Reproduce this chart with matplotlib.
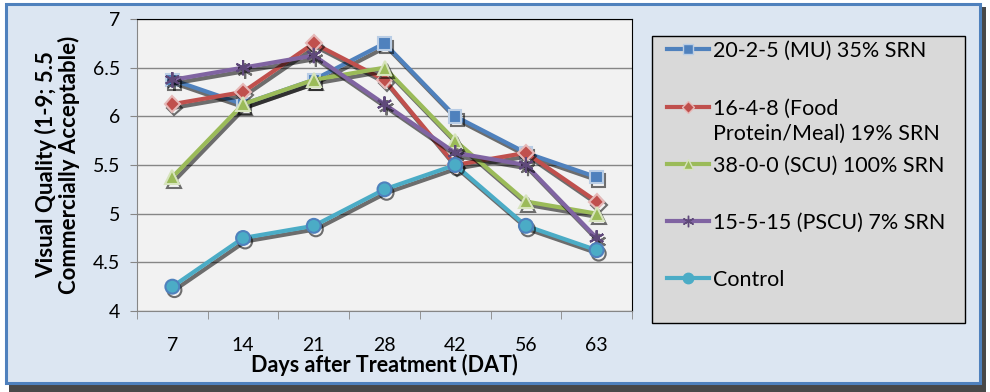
from matplotlib import pyplot as plt
from matplotlib.patches import Rectangle
from matplotlib.lines import Line2D
import matplotlib.patheffects as pe
import numpy as np

plt.rcParams['font.family'] = ['Lato', 'DejaVu Sans']

days = ['7', '14', '21', '28', '42', '56', '63']
mu = [6.375, 6.125, 6.375, 6.75, 6.0, 5.625, 5.375]
food = [6.125, 6.25, 6.75, 6.375, 5.5, 5.625, 5.125]
scu = [5.375, 6.125, 6.375, 6.5, 5.75, 5.125, 5.0]
pscu = [6.375, 6.5, 6.625, 6.125, 5.625, 5.5, 4.75]
control = [4.25, 4.75, 4.875, 5.25, 5.5, 4.875, 4.625]

labels = ['20-2-5 (MU) 35% SRN',
          '16-4-8 (Food\nProtein/Meal) 19% SRN',
          '38-0-0 (SCU) 100% SRN',
          '15-5-15 (PSCU) 7% SRN',
          'Control']

W, H = 990, 392
fig = plt.figure(figsize=(W/100, H/100), dpi=100)
fig.patch.set_facecolor('white')

def px(x, y):
    # pixel from top-left -> figure fraction
    return x / W, 1 - y / H

# outer chart frame with shadow
fig.patches.append(Rectangle((9/W, 0), 977/W, 385/H, transform=fig.transFigure,
                             facecolor='#1a1a1a', edgecolor='none', alpha=0.8, zorder=-2))
fig.patches.append(Rectangle((6/W, 9/H), 974/W, 379/H, transform=fig.transFigure,
                             facecolor='#DCE6F2', edgecolor='#4F81BD', linewidth=2.2, zorder=-1))

ax = fig.add_axes([137/W, 81/H, 495/W, 292/H])
ax.set_facecolor('#F2F2F2')

x = np.arange(len(days))
shadow = [pe.SimpleLineShadow(offset=(1.5, -2.5), shadow_color='black', alpha=0.55),
          pe.Normal()]

styles = [
    (mu, '#4F81BD', 's', '#B9CDE5', 9),
    (food, '#C0504D', 'D', '#E6B9B8', 8),
    (scu, '#9BBB59', '^', '#D7E4BD', 10),
    (pscu, '#8064A2', (6, 2, 0), '#5F497A', 11),
    (control, '#4BACC6', 'o', '#4F81BD', 10),
]
for vals, col, mk, ec, ms in styles:
    ax.plot(x, vals, color=col, lw=3, marker=mk, markersize=ms,
            markerfacecolor=col, markeredgecolor=ec, markeredgewidth=1.5,
            path_effects=shadow)

ax.set_xlim(-0.5, len(days) - 0.5)
ax.set_ylim(4, 7)
ax.set_yticks(np.arange(4, 7.01, 0.5))
ax.set_yticklabels(['4', '4.5', '5', '5.5', '6', '6.5', '7'])
ax.yaxis.grid(True, color='#868686', lw=1)
ax.set_axisbelow(True)

ax.set_xticks(x)
ax.set_xticklabels(days)
ax.set_xticks(np.arange(-0.5, len(days), 1), minor=True)
ax.tick_params(axis='x', which='major', length=0, pad=19, labelsize=14)
ax.tick_params(axis='x', which='minor', length=6, color='#868686', direction='out')
ax.tick_params(axis='y', length=5, color='#868686', labelsize=14, pad=7)

for s in ['left', 'bottom']:
    ax.spines[s].set_color('#868686')
for s in ['top', 'right']:
    ax.spines[s].set_color('black')

ax.set_xlabel('Days after Treatment (DAT)', fontsize=15.5, fontweight='bold', labelpad=0)
ax.set_ylabel('Visual Quality (1-9; 5.5\nCommercially Acceptable)', fontsize=16,
              fontweight='bold', labelpad=9, linespacing=1.05)

# legend box drawn by hand (Excel-style: wrapped label hangs below its key)
fig.patches.append(Rectangle(px(652, 323), 313/W, 287/H, transform=fig.transFigure,
                             facecolor='#D9D9D9', edgecolor='black', linewidth=1, zorder=3))
ys = [49, 107, 164, 221, 278]
for (vals, col, mk, ec, ms), lab, yy in zip(styles, labels, ys):
    fig.add_artist(Line2D([667/W, 709/W], [1 - yy/H] * 2, transform=fig.transFigure,
                          color=col, lw=3, zorder=4))
    fig.add_artist(Line2D([688/W], [1 - yy/H], transform=fig.transFigure, color=col,
                          marker=mk, markersize=ms * 0.75, markerfacecolor=col,
                          markeredgecolor=ec if mk != 'o' else col, markeredgewidth=1,
                          zorder=5))
    fig.text(713/W, 1 - (yy - 8)/H, lab, fontsize=15.5, va='top', ha='left',
             linespacing=1.3, zorder=5)

fig.savefig('out.png', dpi=100)
